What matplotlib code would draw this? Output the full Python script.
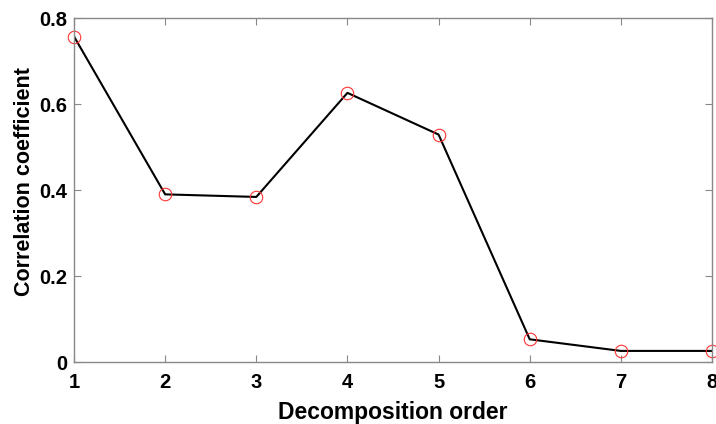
import matplotlib.pyplot as plt

order = [1, 2, 3, 4, 5, 6, 7, 8]
corr = [0.757, 0.390, 0.384, 0.626, 0.529, 0.053, 0.026, 0.026]

plt.rcParams['font.family'] = ['Liberation Sans', 'DejaVu Sans']
plt.rcParams['font.weight'] = 'bold'

fig = plt.figure(figsize=(7.16, 4.24), dpi=100)
ax = fig.add_axes([0.1034, 0.146, 0.891, 0.8115])

ax.plot(order, corr, color='black', linewidth=1.5)
ax.plot(order, corr, 'o', markerfacecolor='none', markeredgecolor='#ff3333',
        markersize=9, markeredgewidth=0.8, clip_on=False)

ax.set_xlim(1, 8)
ax.set_ylim(0, 0.8)
ax.set_xticks(order)
ax.set_yticks([0, 0.2, 0.4, 0.6, 0.8])
ax.set_yticklabels(['0', '0.2', '0.4', '0.6', '0.8'])

for s in ax.spines.values():
    s.set_color('#888888')
    s.set_linewidth(1.0)
ax.tick_params(direction='in', top=True, right=True, color='#888888',
               labelsize=14.5, length=5)
ax.tick_params(axis='x', pad=8)
ax.tick_params(axis='y', pad=5)
for lbl in ax.get_xticklabels() + ax.get_yticklabels():
    lbl.set_fontweight('bold')

ax.set_xlabel('Decomposition order', fontsize=16.5, fontweight='bold', labelpad=6)
ax.set_ylabel('Correlation coefficient', fontsize=15.5, fontweight='bold', labelpad=4)
ax.yaxis.set_label_coords(-0.061, 0.526)

fig.savefig('out.png', dpi=100)
